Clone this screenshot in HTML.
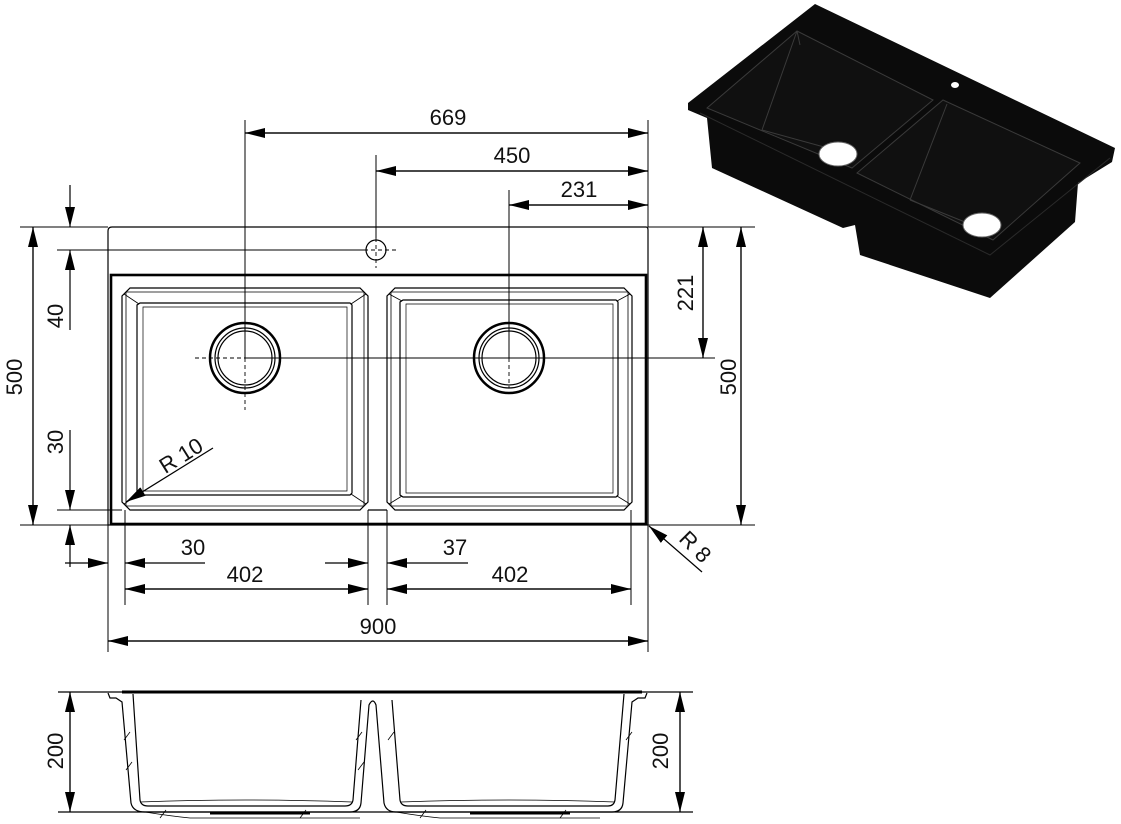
<!DOCTYPE html>
<html><head><meta charset="utf-8"><style>
html,body{margin:0;padding:0;background:#fff;}
svg{display:block;}
text{font-family:"Liberation Sans",Arial,sans-serif;font-size:22px;fill:#111;}
</style></head><body>
<svg width="1121" height="824" viewBox="0 0 1121 824" xmlns="http://www.w3.org/2000/svg">
<defs>
<marker id="a" viewBox="0 0 20 10" refX="20" refY="5" markerWidth="20" markerHeight="10" markerUnits="userSpaceOnUse" orient="auto"><path d="M0,0 L20,5 L0,10 z" fill="#000"/></marker>
</defs>
<g stroke="#000" fill="none" stroke-width="1.2">
<path d="M108,231 Q108,227 112,227 L646,227 Q648,227 648,230 L648,525 L108,525 Z"/>
<rect x="111" y="275" width="535" height="249" stroke-width="2.6"/>
<path d="M130,288 L360,288 L368,296 L368,502 L360,510 L130,510 L122,502 L122,296 Z"/>
<path d="M126,292 L364,292 L364,506 L126,506 Z" stroke-width="0.8"/>
<path d="M140,303 L350,303 L352,305 L352,493 L350,495 L140,495 L137,493 L137,305 Z"/>
<path d="M143,307 L347,307 L347,491 L143,491 Z" stroke-width="0.7"/>
<path d="M124,294 L139,304 M366,294 L351,304 M124,504 L139,494 M366,504 L351,494" stroke-width="0.8"/>
<path d="M395,288 L624,288 L632,296 L632,502 L624,510 L395,510 L387,502 L387,296 Z"/>
<path d="M391,292 L628,292 L628,506 L391,506 Z" stroke-width="0.8"/>
<path d="M403,300 L616,300 L618,302 L618,495 L616,497 L403,497 L400,495 L400,302 Z"/>
<path d="M406,304 L613,304 L613,493 L406,493 Z" stroke-width="0.7"/>
<path d="M389,294 L402,301 M630,294 L617,301 M389,504 L402,496 M630,504 L617,496" stroke-width="0.8"/>
<line x1="368" y1="510" x2="387" y2="510"/>
<circle cx="245" cy="358" r="35" stroke-width="2.5"/><circle cx="245" cy="358" r="30"/><circle cx="245" cy="358" r="27"/>
<circle cx="509" cy="358" r="35" stroke-width="2.5"/><circle cx="509" cy="358" r="30"/><circle cx="509" cy="358" r="27"/>
<circle cx="376" cy="250" r="10"/>
<g stroke-width="0.9" stroke-dasharray="4,3">
<line x1="376" y1="238" x2="376" y2="268"/><line x1="364" y1="250" x2="396" y2="250"/>
<line x1="245" y1="358" x2="245" y2="410"/><line x1="195" y1="358" x2="245" y2="358"/>
<line x1="509" y1="358" x2="509" y2="388"/>
</g>
<g stroke-width="1">
<line x1="245" y1="120" x2="245" y2="358"/>
<line x1="376" y1="155" x2="376" y2="238"/>
<line x1="509" y1="190" x2="509" y2="358"/>
<line x1="648" y1="120" x2="648" y2="227"/>
<line x1="648" y1="525" x2="648" y2="652"/>
<line x1="108" y1="525" x2="108" y2="652"/>
<line x1="125" y1="510" x2="125" y2="605"/>
<line x1="368" y1="510" x2="368" y2="605"/>
<line x1="387" y1="510" x2="387" y2="605"/>
<line x1="631" y1="510" x2="631" y2="605"/>
<line x1="20" y1="227" x2="108" y2="227"/>
<line x1="20" y1="525" x2="108" y2="525"/>
<line x1="57" y1="250" x2="366" y2="250"/>
<line x1="57" y1="510" x2="122" y2="510"/>
<line x1="648" y1="227" x2="755" y2="227"/>
<line x1="648" y1="525" x2="755" y2="525"/>
<line x1="245" y1="358" x2="715" y2="358"/>
</g>
<line x1="245" y1="133" x2="648" y2="133" marker-end="url(#a)"/>
<line x1="648" y1="133" x2="245" y2="133" marker-end="url(#a)"/>
<line x1="648" y1="171" x2="376" y2="171" marker-end="url(#a)"/>
<line x1="376" y1="171" x2="648" y2="171" marker-end="url(#a)"/>
<line x1="648" y1="205" x2="509" y2="205" marker-end="url(#a)"/>
<line x1="509" y1="205" x2="648" y2="205" marker-end="url(#a)"/>
<line x1="125" y1="589" x2="368" y2="589" marker-end="url(#a)"/>
<line x1="368" y1="589" x2="125" y2="589" marker-end="url(#a)"/>
<line x1="387" y1="589" x2="631" y2="589" marker-end="url(#a)"/>
<line x1="631" y1="589" x2="387" y2="589" marker-end="url(#a)"/>
<line x1="108" y1="641" x2="648" y2="641" marker-end="url(#a)"/>
<line x1="648" y1="641" x2="108" y2="641" marker-end="url(#a)"/>
<line x1="65" y1="563" x2="108" y2="563" marker-end="url(#a)"/>
<line x1="205" y1="563" x2="125" y2="563" marker-end="url(#a)"/>
<line x1="325" y1="563" x2="368" y2="563" marker-end="url(#a)"/>
<line x1="468" y1="563" x2="387" y2="563" marker-end="url(#a)"/>
<line x1="33" y1="227" x2="33" y2="525" marker-end="url(#a)"/>
<line x1="33" y1="525" x2="33" y2="227" marker-end="url(#a)"/>
<line x1="70" y1="185" x2="70" y2="227" marker-end="url(#a)"/>
<line x1="70" y1="330" x2="70" y2="250" marker-end="url(#a)"/>
<line x1="70" y1="430" x2="70" y2="510" marker-end="url(#a)"/>
<line x1="70" y1="567" x2="70" y2="525" marker-end="url(#a)"/>
<line x1="703" y1="227" x2="703" y2="358" marker-end="url(#a)"/>
<line x1="703" y1="358" x2="703" y2="227" marker-end="url(#a)"/>
<line x1="741" y1="227" x2="741" y2="525" marker-end="url(#a)"/>
<line x1="741" y1="525" x2="741" y2="227" marker-end="url(#a)"/>
<line x1="213" y1="448" x2="126" y2="502" marker-end="url(#a)"/>
<line x1="702" y1="572" x2="649" y2="526" marker-end="url(#a)"/>
<line x1="58" y1="692" x2="693" y2="692"/>
<line x1="58" y1="812" x2="693" y2="812"/>
<line x1="122" y1="692" x2="642" y2="692" stroke-width="3"/>
<line x1="70" y1="692" x2="70" y2="812" marker-end="url(#a)"/>
<line x1="70" y1="812" x2="70" y2="692" marker-end="url(#a)"/>
<line x1="680" y1="692" x2="680" y2="812" marker-end="url(#a)"/>
<line x1="680" y1="812" x2="680" y2="692" marker-end="url(#a)"/>
<path d="M108,693 L110,698 L116,698 L122,702 L131,803 Q133,812 145,812 L350,812 Q360,812 361,803 L369,705 Q373,697 376,705 L384,803 Q386,812 396,812 L612,812 Q622,812 623,803 L632,702 L638,698 L645,698 L647,693"/>
<path d="M133,694 L140,800 Q141,806 148,806 L345,806 Q352,806 353,800 L361,700"/>
<path d="M392,700 L400,800 Q401,806 408,806 L608,806 Q614,806 615,800 L624,694"/>
<path d="M140,802 Q245,798 352,802 M401,802 Q510,798 615,802" stroke-width="0.8"/>
<path d="M145,812 Q170,816 190,818 L360,818 M396,812 Q420,816 440,818 L600,818" stroke-width="0.8"/>
<path d="M210,813 L310,813 M470,813 L570,813" stroke-width="3"/>
<path d="M124,740 L130,732 M126,770 L132,762 M356,740 L362,732 M358,770 L364,762 M388,740 L394,732 M626,740 L632,732 M160,818 L166,810 M300,818 L306,810 M420,818 L426,810 M560,818 L566,810" stroke-width="0.8"/>
</g>
<g>
<path d="M688,103 L815,4 L1115,148 L1112,162 L1078,183 L1075,222 L990,298 L860,255 L855,225 L843,228 L712,168 L707,118 L688,110 Z" fill="#0b0b0b"/>
<path d="M707,108 L797,31 L933,100 L852,168 Z" fill="#101010" stroke="#3a3a3a" stroke-width="1"/>
<path d="M762,130 L797,31 M762,130 L835,150 M797,31 L800,45" stroke="#3a3a3a" stroke-width="1" fill="none"/>
<path d="M857,173 L943,100 L1080,163 L993,240 Z" fill="#101010" stroke="#3a3a3a" stroke-width="1"/>
<path d="M910,200 L947,104 M910,200 L965,222" stroke="#3a3a3a" stroke-width="1" fill="none"/>
<path d="M700,113 L990,255 L1110,158" stroke="#2a2a2a" stroke-width="1" fill="none"/>
<ellipse cx="838" cy="154" rx="19" ry="12" fill="#fff" stroke="#666"/>
<ellipse cx="982" cy="225" rx="19" ry="12" fill="#fff" stroke="#666"/>
<ellipse cx="955" cy="85" rx="4" ry="3" fill="#fff"/>
</g>
<text x="448" y="125" text-anchor="middle">669</text>
<text x="512" y="163" text-anchor="middle">450</text>
<text x="579" y="197" text-anchor="middle">231</text>
<text x="193" y="555" text-anchor="middle">30</text>
<text x="455" y="555" text-anchor="middle">37</text>
<text x="245" y="582" text-anchor="middle">402</text>
<text x="510" y="582" text-anchor="middle">402</text>
<text x="378" y="634" text-anchor="middle">900</text>
<text transform="translate(22,377) rotate(-90)" text-anchor="middle">500</text>
<text transform="translate(63,316) rotate(-90)" text-anchor="middle">40</text>
<text transform="translate(63,442) rotate(-90)" text-anchor="middle">30</text>
<text transform="translate(693,293) rotate(-90)" text-anchor="middle">221</text>
<text transform="translate(736,377) rotate(-90)" text-anchor="middle">500</text>
<text transform="translate(63,751) rotate(-90)" text-anchor="middle">200</text>
<text transform="translate(668,751) rotate(-90)" text-anchor="middle">200</text>
<text transform="translate(185,462) rotate(-32)" text-anchor="middle">R  10</text>
<text transform="translate(690,552) rotate(45)" text-anchor="middle">R  8</text>
</svg>
</body></html>
